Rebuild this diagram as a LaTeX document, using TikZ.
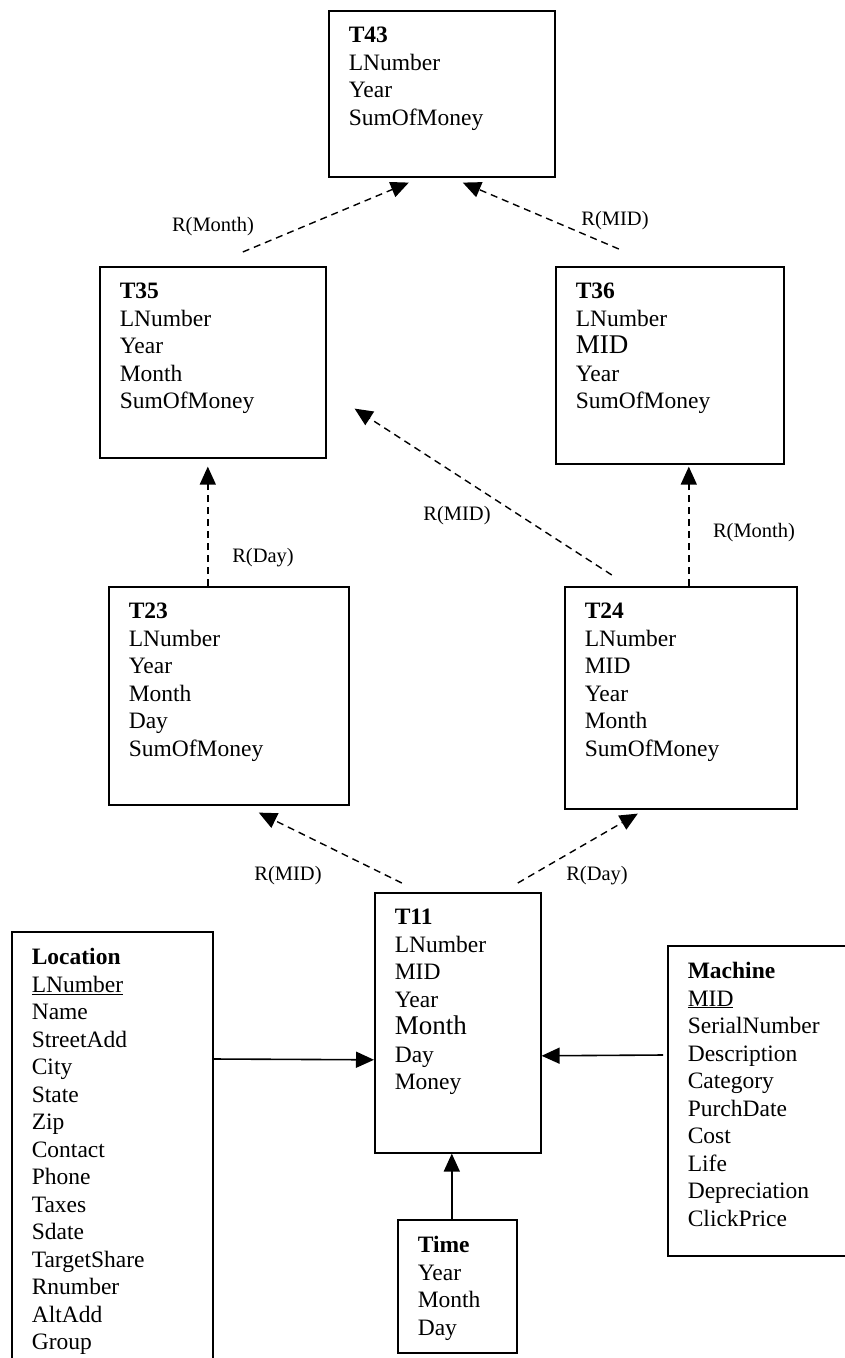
\documentclass[tikz,border=0pt]{standalone}
\usepackage{fontspec}
\setmainfont{Liberation Serif}
\usetikzlibrary{arrows.meta,calc}

\begin{document}
\begin{tikzpicture}[x=1pt,y=-1pt,font=\fontsize{23.5}{27.5}\selectfont,
  tbl/.style={draw,line width=1.6pt,anchor=north west,inner xsep=20pt,inner ysep=16.5pt},
  rollup/.style={line width=1.4pt,dash pattern=on 7pt off 5pt,
                 -{Triangle[length=18pt,width=16pt]}},
  link/.style={line width=1.6pt,-{Triangle[length=18pt,width=16pt]}},
  lbl/.style={font=\fontsize{20.5}{24}\selectfont,inner sep=0pt}]
  \useasboundingbox (0,0) rectangle (845,1358);
  \clip (0,0) rectangle (845,1358);
  \node[tbl] (t43) at (328,10) {\parbox[t][133pt][t]{186pt}{\textbf{T43}\\LNumber\\Year\\SumOfMoney}};
  \node[tbl] (t35) at (99,266) {\parbox[t][158pt][t]{186pt}{\textbf{T35}\\LNumber\\Year\\Month\\SumOfMoney}};
  \node[tbl] (t36) at (555,266) {\parbox[t][164pt][t]{188pt}{\textbf{T36}\\LNumber\\{\fontsize{27}{27.5}\selectfont MID}\\Year\\SumOfMoney}};
  \node[tbl] (t23) at (108,586) {\parbox[t][185pt][t]{200pt}{\textbf{T23}\\LNumber\\Year\\Month\\Day\\SumOfMoney}};
  \node[tbl] (t24) at (564,586) {\parbox[t][189pt][t]{192pt}{\textbf{T24}\\LNumber\\MID\\Year\\Month\\SumOfMoney}};
  \node[tbl] (t11) at (374,892) {\parbox[t][227pt][t]{126pt}{\textbf{T11}\\LNumber\\MID\\Year\\{\fontsize{27}{27.5}\selectfont Month}\\Day\\Money}};
  \node[tbl] (loc) at (11,931) {\parbox[t][450pt][t]{161pt}{\textbf{Location}\\\underline{LNumber}\\Name\\StreetAdd\\City\\State\\Zip\\Contact\\Phone\\Taxes\\Sdate\\TargetShare\\Rnumber\\AltAdd\\Group}};
  \node[tbl] (mach) at (667,945) {\parbox[t][277pt][t]{200pt}{\textbf{Machine}\\\underline{MID}\\SerialNumber\\Description\\Category\\PurchDate\\Cost\\Life\\Depreciation\\ClickPrice}};
  \node[tbl] (time) at (397,1219) {\parbox[t][100pt][t]{79pt}{\textbf{Time}\\Year\\Month\\Day}};
  \draw[rollup] ($(t35.north)+(30,-14)$) -- ($(t43.south)+(-33,5)$);
  \draw[rollup] ($(t36.north)+(-51,-17)$) -- ($(t43.south)+(21,5)$);
  \draw[rollup] ($(t23.north)+(-21,0)$) -- ($(t35.south)+(-5,8)$);
  \draw[rollup] ($(t24.north)+(-69,-11)$) -- ($(t35.south east)+(28,-50)$);
  \draw[rollup] ($(t24.north)+(8,0)$) -- ($(t36.south)+(19,2)$);
  \draw[rollup] ($(t11.north)+(-56,-9)$) -- ($(t23.south)+(30,7)$);
  \draw[rollup] ($(t11.north)+(60,-9)$) -- ($(t24.south)+(-43,4)$);
  \draw[link] ($(loc.north east)+(0,128)$) -- ($(t11.west)+(0,37)$);
  \draw[link] ($(mach.north west)+(-4,110)$) -- ($(t11.east)+(0,33)$);
  \draw[link] ($(time.north)+(-5.5,0)$) -- ($(t11.south)+(-6,0)$);
  \node[lbl] (rm1) at (213,227) {R(Month)};
  \node[lbl] (rm2) at (615,221) {R(MID)};
  \node[lbl] (rd1) at (263,558) {R(Day)};
  \node[lbl] (rm3) at (457,516) {R(MID)};
  \node[lbl] (rm4) at (754,533) {R(Month)};
  \node[lbl] (rm5) at (288,876) {R(MID)};
  \node[lbl] (rd2) at (597,876) {R(Day)};
\end{tikzpicture}
\end{document}
